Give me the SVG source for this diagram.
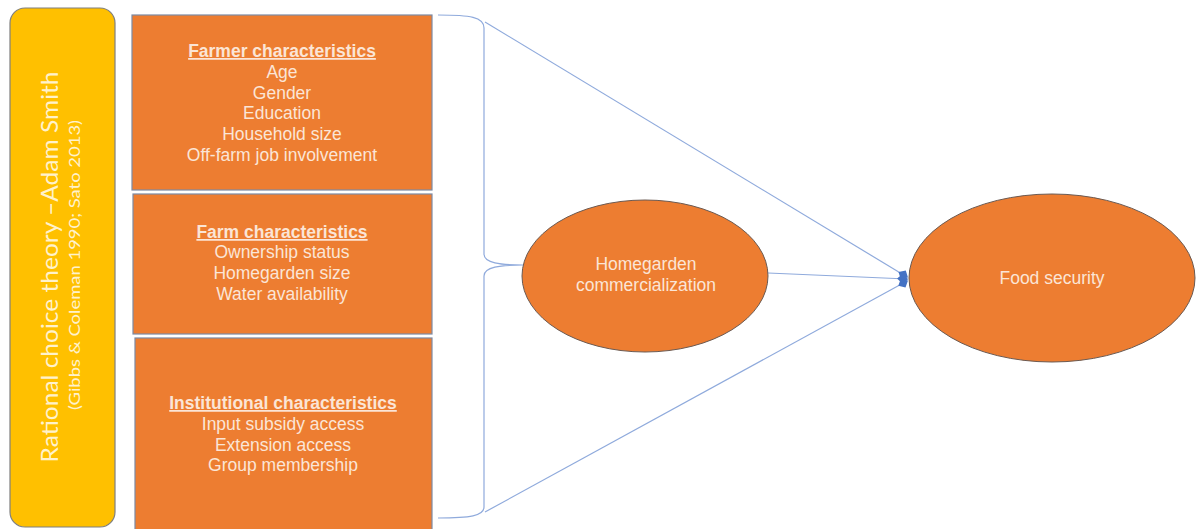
<svg xmlns="http://www.w3.org/2000/svg" width="1196" height="529" viewBox="0 0 1196 529">
<defs>
<style>
.box{fill:#ED7D31;stroke:#7D8AA3;stroke-width:1.2}
.ell{fill:#ED7D31;stroke:#6B5A52;stroke-width:1}
.t{font-family:"Liberation Sans",Arial,sans-serif;font-size:17.5px;fill:#FBE5D6;text-anchor:middle}
.h{font-weight:bold;text-decoration:underline}
.con{fill:none;stroke:#8FAADC;stroke-width:1.2}
.side{font-family:Lato,"Open Sans",sans-serif;fill:#FFF2CC;text-anchor:middle}
</style>
<marker id="dia" viewBox="0 0 10 10" refX="9" refY="5" markerWidth="11" markerHeight="11" orient="auto" markerUnits="userSpaceOnUse">
<path d="M0,5 L5,0.5 L10,5 L5,9.5 Z" fill="#4472C4"/>
</marker>
</defs>
<rect width="1196" height="529" fill="#FFFFFF"/>
<g id="theory">
<rect x="10" y="8" width="105" height="519" rx="15" ry="15" fill="#FFC000" stroke="#7F7F7F" stroke-width="1.2"/>
<text class="side" font-size="23" transform="translate(58,267) rotate(-90)" textLength="391" lengthAdjust="spacingAndGlyphs">Rational choice theory –Adam Smith</text>
<text class="side" font-size="15" transform="translate(80,265) rotate(-90)" textLength="290" lengthAdjust="spacingAndGlyphs">(Gibbs &amp; Coleman 1990; Sato 2013)</text>
</g>
<g id="farmer">
<rect class="box" x="132" y="15" width="300" height="175"/>
<text class="t"><tspan class="h" x="282" y="57">Farmer characteristics</tspan><tspan x="282" y="78">Age</tspan><tspan x="282" y="99">Gender</tspan><tspan x="282" y="119">Education</tspan><tspan x="282" y="140">Household size</tspan><tspan x="282" y="161">Off-farm job involvement</tspan></text>
</g>
<g id="farm">
<rect class="box" x="133" y="194" width="299" height="140"/>
<text class="t"><tspan class="h" x="282" y="238">Farm characteristics</tspan><tspan x="282" y="258">Ownership  status</tspan><tspan x="282" y="279">Homegarden size</tspan><tspan x="282" y="300">Water availability</tspan></text>
</g>
<g id="institutional">
<rect class="box" x="135" y="338" width="297" height="195"/>
<text class="t"><tspan class="h" x="283" y="409">Institutional characteristics</tspan><tspan x="283" y="430">Input subsidy access</tspan><tspan x="283" y="451">Extension access</tspan><tspan x="283" y="471">Group membership</tspan></text>
</g>
<g id="connectors">
<path class="con" d="M438,15 C470,15 484,17 484,28 L484,254 C484,263 500,265 523,265 C500,265 484,267 484,276 L484,507 C484,516 470,518 438,518"/>
<path class="con" d="M485,22 L907,277" marker-end="url(#dia)"/>
<path class="con" d="M768,273 L907,279" marker-end="url(#dia)"/>
<path class="con" d="M485,512 L907,281" marker-end="url(#dia)"/>
</g>
<g id="commercialization">
<ellipse class="ell" cx="645" cy="276" rx="123" ry="76"/>
<text class="t"><tspan x="646" y="270">Homegarden</tspan><tspan x="646" y="291">commercialization</tspan></text>
</g>
<g id="foodsecurity">
<ellipse class="ell" cx="1052" cy="278" rx="143" ry="84"/>
<text class="t" x="1052" y="284">Food security</text>
</g>
</svg>
